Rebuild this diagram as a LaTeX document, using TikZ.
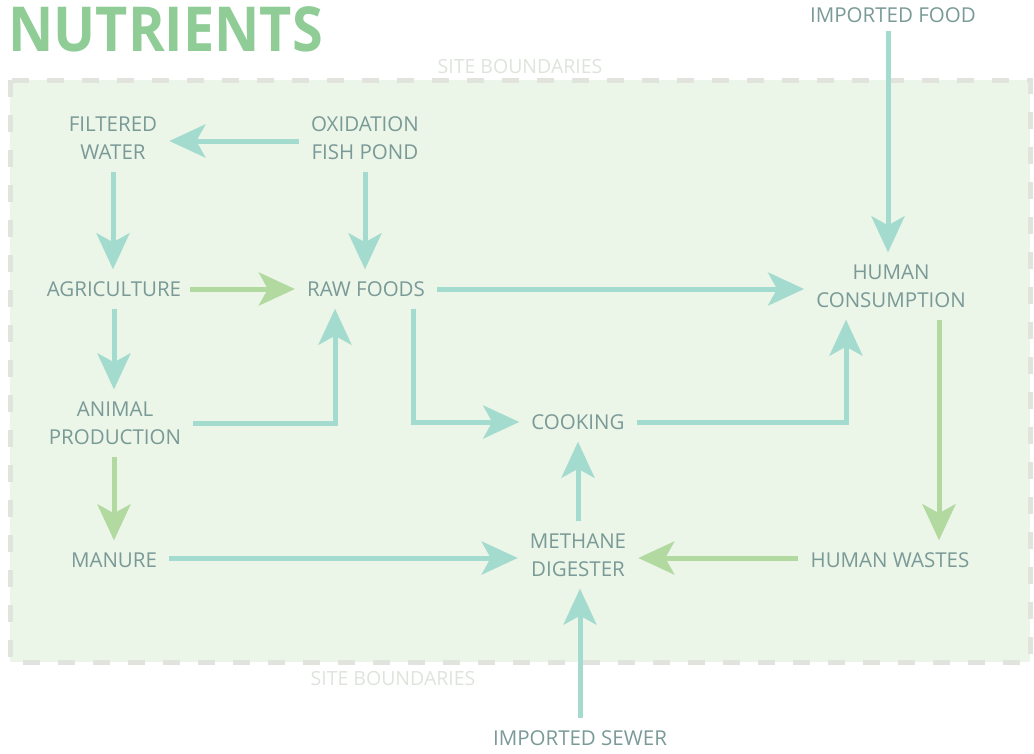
\documentclass[tikz,border=0pt]{standalone}
\usepackage{fontspec}
\setmainfont{Open Sans}
\usetikzlibrary{arrows.meta,calc}
\definecolor{labelgray}{RGB}{122,154,151}
\definecolor{flowteal}{RGB}{163,219,206}
\definecolor{flowgreen}{RGB}{178,217,160}
\definecolor{titlegreen}{RGB}{143,204,150}
\definecolor{sitefill}{RGB}{235,245,232}
\definecolor{sitedash}{RGB}{224,228,220}
\definecolor{sitetext}{RGB}{222,228,220}
\begin{document}
\begin{tikzpicture}[x=1pt,y=-1pt,
  item/.style={text=labelgray,font=\fontsize{20.5}{28}\selectfont,align=center,inner sep=12pt},
  flowhead/.style={-{Stealth[length=36pt,width=33pt,inset=9pt]}},
  tealflow/.style={flowhead,draw=flowteal,line width=5pt},
  greenflow/.style={flowhead,draw=flowgreen,line width=5pt},
  sitelabel/.style={text=sitetext,font=\fontsize{19.5}{22}\selectfont,inner sep=0pt}]
\useasboundingbox (0,0) rectangle (1034,753);

% site area
\fill[sitefill] (10,80) rectangle (1030,662);
\draw[sitedash,line width=5pt,dash pattern=on 17pt off 18pt] (10,80) rectangle (1030,662);
\node[sitelabel] (sitetop) at (520,67) {SITE BOUNDARIES};
\node[sitelabel] (sitebottom) at (393,679) {SITE BOUNDARIES};

% title
\node[anchor=base west,inner sep=0pt,text=titlegreen,font=\bfseries\fontsize{62}{62}\selectfont] (title) at (8,51) {\scalebox{0.9}[1]{NUTRIENTS}};

% stages
\node[item] (fw) at (113,138) {FILTERED\\WATER};
\node[item] (ox) at (365,138) {OXIDATION\\FISH POND};
\node[item] (ag) at (114,289) {AGRICULTURE};
\node[item] (raw) at (366,289) {RAW FOODS};
\node[item] (hc) at (891,286) {HUMAN\\CONSUMPTION};
\node[item] (ap) at (115,423) {ANIMAL\\PRODUCTION};
\node[item] (ck) at (578,422) {COOKING};
\node[item] (mn) at (114,560) {MANURE};
\node[item] (md) at (578,555) {METHANE\\DIGESTER};
\node[item] (hw) at (890,560) {HUMAN WASTES};
\node[item] (imf) at (893,15) {IMPORTED FOOD};
\node[item] (ims) at (580,738) {IMPORTED SEWER};

% flows
\draw[tealflow] ([yshift=-3pt]ox.west) -- ([yshift=-3pt]ox.west -| fw.east);
\draw[tealflow] (fw.south) -- (fw.south |- ag.north);
\draw[tealflow] (ox.south) -- (ox.south |- raw.north);
\draw[greenflow] ([xshift=-3pt]ag.east) -- (ag.east -| raw.west);
\draw[tealflow] (raw.east) -- (raw.east -| hc.west);
\draw[tealflow] (ag.south) -- (ag.south |- ap.north);
\draw[tealflow] (ap.east) -| ([xshift=-31pt]raw.south);
\draw[tealflow] ([xshift=47pt]raw.south) |- (ck.west);
\draw[tealflow] (ck.east) -| ([xshift=-45pt]hc.south);
\draw[tealflow] ([xshift=-5pt,yshift=4pt]imf.south) -- ([xshift=-5pt]imf.south |- hc.north);
\draw[greenflow] ([xshift=48pt]hc.south) -- ([xshift=48pt]hc.south |- hw.north);
\draw[greenflow] ([yshift=2pt]hw.west) -- ([yshift=2pt]hw.west -| md.east);
\draw[tealflow] ([yshift=2pt]mn.east) -- ([yshift=2pt]mn.east -| md.west);
\draw[greenflow] (ag.south |- ap.south) -- (ag.south |- mn.north);
\draw[tealflow] (md.north) -- (ck.south);
\draw[tealflow] (ims.north) -- (ims.north |- md.south);
\end{tikzpicture}
\end{document}
